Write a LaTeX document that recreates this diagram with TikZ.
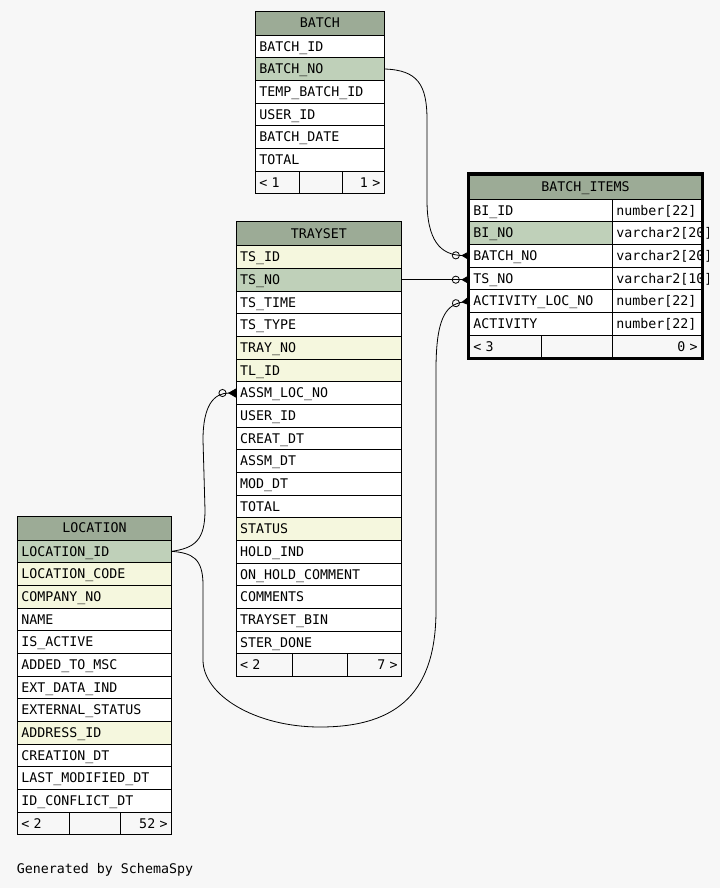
\documentclass[tikz,border=0pt]{standalone}
\usepackage{fontspec}
\usepackage{tikz}
\usetikzlibrary{arrows.meta,positioning,calc,fit}
\usepackage{xcolor}
\newfontfamily\schemamono{DejaVu Sans Mono}
\newcommand{\tblfont}{\schemamono\fontsize{13.3pt}{15pt}\selectfont}
\definecolor{sspage}{RGB}{247,247,247}
\definecolor{sshead}{RGB}{156,171,150}
\definecolor{sspk}{RGB}{191,208,185}
\definecolor{ssfk}{RGB}{245,247,222}
\tikzstyle{fld} = [rectangle, draw=black, line width=0.8pt, fill=white, outer sep=0pt, inner xsep=4pt, inner ysep=0pt, minimum height=22.67pt, text height=9.7pt, text depth=0pt, align=left, font=\tblfont]
\tikzstyle{pkfld} = [fld, fill=sspk]
\tikzstyle{fkfld} = [fld, fill=ssfk]
\tikzstyle{tblhead} = [fld, fill=sshead, align=center, minimum height=24pt, anchor=north west]
\tikzstyle{ftrl} = [fld, fill=sspage, align=left]
\tikzstyle{ftrr} = [fld, fill=sspage, align=right]
\tikzstyle{conn} = [line width=0.8pt, -{Circle[open,length=8pt,width=8pt,sep=1.5pt]Triangle[reversed,length=8pt,width=9pt]}]

\begin{document}
\begin{tikzpicture}[x=1pt, y=-1pt]
\useasboundingbox (0,0) rectangle (720,888);
\fill[sspage] (0,0) rectangle (720,888);

% BATCH
\begin{scope}[every node/.append style={text width=121pt}]
\node[tblhead] (batch) at (255.3,11) {BATCH};
\node[fld, below=0pt of batch] (batch-id) {BATCH\_ID};
\node[pkfld, below=0pt of batch-id] (batch-no) {BATCH\_NO};
\node[fld, below=0pt of batch-no] (batch-temp) {TEMP\_BATCH\_ID};
\node[fld, below=0pt of batch-temp] (batch-user) {USER\_ID};
\node[fld, below=0pt of batch-user] (batch-date) {BATCH\_DATE};
\node[fld, below=0pt of batch-date] (batch-total) {TOTAL};
\node[ftrl, text width=36pt, anchor=north west] (batch-f1) at (batch-total.south west) {< 1};
\node[ftrl, text width=35pt, right=0pt of batch-f1] (batch-f2) {};
\node[ftrr, text width=34pt, right=0pt of batch-f2] (batch-f3) {1 >};
\end{scope}

% TRAYSET
\begin{scope}[every node/.append style={text width=157.7pt}]
\node[tblhead] (ts) at (236,221.7) {TRAYSET};
\node[fkfld, below=0pt of ts] (ts-id) {TS\_ID};
\node[pkfld, below=0pt of ts-id] (ts-no) {TS\_NO};
\node[fld, below=0pt of ts-no] (ts-time) {TS\_TIME};
\node[fld, below=0pt of ts-time] (ts-type) {TS\_TYPE};
\node[fkfld, below=0pt of ts-type] (ts-tray) {TRAY\_NO};
\node[fkfld, below=0pt of ts-tray] (ts-tl) {TL\_ID};
\node[fld, below=0pt of ts-tl] (ts-assm) {ASSM\_LOC\_NO};
\node[fld, below=0pt of ts-assm] (ts-user) {USER\_ID};
\node[fld, below=0pt of ts-user] (ts-creat) {CREAT\_DT};
\node[fld, below=0pt of ts-creat] (ts-assmdt) {ASSM\_DT};
\node[fld, below=0pt of ts-assmdt] (ts-mod) {MOD\_DT};
\node[fld, below=0pt of ts-mod] (ts-total) {TOTAL};
\node[fkfld, below=0pt of ts-total] (ts-status) {STATUS};
\node[fld, below=0pt of ts-status] (ts-hold) {HOLD\_IND};
\node[fld, below=0pt of ts-hold] (ts-onhold) {ON\_HOLD\_COMMENT};
\node[fld, below=0pt of ts-onhold] (ts-comments) {COMMENTS};
\node[fld, below=0pt of ts-comments] (ts-bin) {TRAYSET\_BIN};
\node[fld, below=0pt of ts-bin] (ts-ster) {STER\_DONE};
\node[ftrl, text width=48.3pt, anchor=north west] (ts-f1) at (ts-ster.south west) {< 2};
\node[ftrl, text width=47pt, right=0pt of ts-f1] (ts-f2) {};
\node[ftrr, text width=46.4pt, right=0pt of ts-f2] (ts-f3) {7 >};
\end{scope}

% LOCATION
\begin{scope}[every node/.append style={text width=146.4pt}]
\node[tblhead] (loc) at (17.3,516) {LOCATION};
\node[pkfld, below=0pt of loc] (loc-id) {LOCATION\_ID};
\node[fkfld, below=0pt of loc-id] (loc-code) {LOCATION\_CODE};
\node[fkfld, below=0pt of loc-code] (loc-company) {COMPANY\_NO};
\node[fld, below=0pt of loc-company] (loc-name) {NAME};
\node[fld, below=0pt of loc-name] (loc-active) {IS\_ACTIVE};
\node[fld, below=0pt of loc-active] (loc-msc) {ADDED\_TO\_MSC};
\node[fld, below=0pt of loc-msc] (loc-ext) {EXT\_DATA\_IND};
\node[fld, below=0pt of loc-ext] (loc-extstat) {EXTERNAL\_STATUS};
\node[fkfld, below=0pt of loc-extstat] (loc-addr) {ADDRESS\_ID};
\node[fld, below=0pt of loc-addr] (loc-creation) {CREATION\_DT};
\node[fld, below=0pt of loc-creation] (loc-lastmod) {LAST\_MODIFIED\_DT};
\node[fld, below=0pt of loc-lastmod] (loc-conflict) {ID\_CONFLICT\_DT};
\node[ftrl, text width=44pt, anchor=north west] (loc-f1) at (loc-conflict.south west) {< 2};
\node[ftrl, text width=43pt, right=0pt of loc-f1] (loc-f2) {};
\node[ftrr, text width=43.4pt, right=0pt of loc-f2] (loc-f3) {52 >};
\end{scope}

% BATCH_ITEMS
\begin{scope}[every node/.append style={text width=135pt}]
\clip (460,165) rectangle (708,365);
\node[tblhead, text width=224.4pt] (bi) at (469.3,175) {BATCH\_ITEMS};
\node[fld, anchor=north west] (bi-id) at (bi.south west) {BI\_ID};
\node[pkfld, below=0pt of bi-id] (bi-no) {BI\_NO};
\node[fld, below=0pt of bi-no] (bi-batchno) {BATCH\_NO};
\node[fld, below=0pt of bi-batchno] (bi-tsno) {TS\_NO};
\node[fld, below=0pt of bi-tsno] (bi-actloc) {ACTIVITY\_LOC\_NO};
\node[fld, below=0pt of bi-actloc] (bi-act) {ACTIVITY};
\node[fld, text width=81.4pt, right=0pt of bi-id] (bi-id-t) {\mbox{number[22]}};
\node[fld, text width=81.4pt, right=0pt of bi-no] (bi-no-t) {\mbox{varchar2[20]}};
\node[fld, text width=81.4pt, right=0pt of bi-batchno] (bi-batchno-t) {\mbox{varchar2[20]}};
\node[fld, text width=81.4pt, right=0pt of bi-tsno] (bi-tsno-t) {\mbox{varchar2[10]}};
\node[fld, text width=81.4pt, right=0pt of bi-actloc] (bi-actloc-t) {\mbox{number[22]}};
\node[fld, text width=81.4pt, right=0pt of bi-act] (bi-act-t) {\mbox{number[22]}};
\node[ftrl, text width=64.4pt, anchor=north west] (bi-f1) at (bi-act.south west) {< 3};
\node[ftrl, text width=62.6pt, right=0pt of bi-f1] (bi-f2) {};
\node[ftrr, text width=81.4pt, right=0pt of bi-f2] (bi-f3) {0 >};
\end{scope}
\node[draw, line width=2.2pt, inner sep=1.5pt, fit=(bi)(bi-f3)] (bi-frame) {};

% Relationships
\draw[conn] (batch-no.east) .. controls (418,70) and (427,85) .. (427,120) -- (427,200) .. controls (427,240) and (440,255) .. (bi-batchno.west);
\draw[conn] (ts-no.east) -- (ts-no.east -| bi-tsno.west);
\draw[conn] (loc-id.east) .. controls (195,548) and (205,540) .. (205,510) -- (203,440) .. controls (203,405) and (214,393) .. (ts-assm.west);
\draw[conn] (loc-id.east) .. controls (192,553) and (203,558) .. (203,585) -- (203,660) .. controls (203,695) and (255,727) .. (320,727) .. controls (400,727) and (436,690) .. (436,610) -- (436,370) .. controls (436,320) and (445,305) .. (bi-actloc.west);

\node[anchor=base west, inner sep=0pt, font=\tblfont] (gen) at (16.7,873.5) {Generated by SchemaSpy};
\end{tikzpicture}
\end{document}
